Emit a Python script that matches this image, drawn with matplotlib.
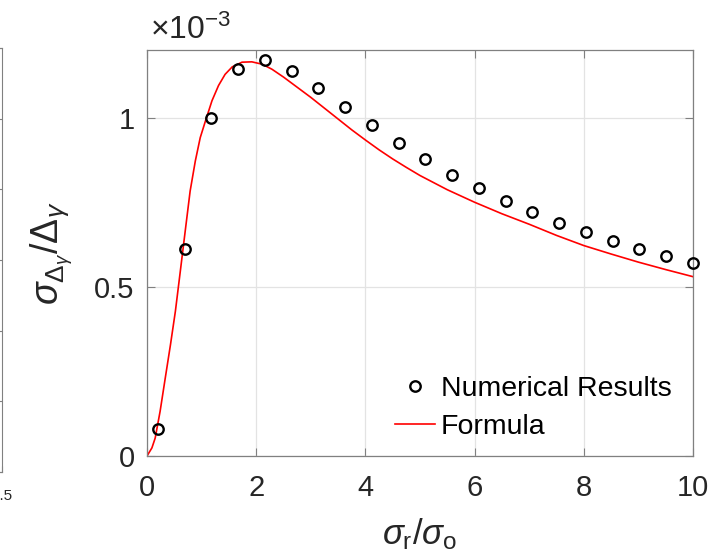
import numpy as np
import matplotlib
matplotlib.use('Agg')
import matplotlib.pyplot as plt

plt.rcParams['font.family'] = ['Liberation Sans', 'DejaVu Sans']
plt.rcParams['mathtext.fontset'] = 'custom'
plt.rcParams['mathtext.rm'] = 'Liberation Sans'
plt.rcParams['mathtext.it'] = 'Liberation Sans:italic'
plt.rcParams['mathtext.bf'] = 'Liberation Sans:bold'

# Dados (eixo y em unidades de 1e-3)
num_x = [0.2, 0.69, 1.18, 1.67, 2.16, 2.65, 3.14, 3.63, 4.12, 4.61, 5.10,
         5.59, 6.08, 6.57, 7.06, 7.55, 8.04, 8.53, 9.02, 9.51, 10.0]
num_y = [0.081, 0.613, 0.998, 1.145, 1.170, 1.138, 1.089, 1.033, 0.978, 0.926, 0.879,
         0.832, 0.792, 0.754, 0.721, 0.690, 0.662, 0.636, 0.612, 0.590, 0.571]

formula_x = [0.0, 0.09, 0.15, 0.24, 0.335, 0.43, 0.52, 0.61, 0.70, 0.79, 0.885, 0.975,
             1.07, 1.19, 1.31, 1.43, 1.56, 1.74, 1.92, 2.11, 2.29, 2.5, 2.75, 3.0,
             3.25, 3.5, 3.75, 4.0, 4.25, 4.5, 4.75, 5.0, 5.5, 6.0, 6.5, 7.0,
             7.5, 8.0, 8.5, 9.0, 9.5, 10.0]
formula_y = [0.0, 0.024, 0.053, 0.132, 0.231, 0.329, 0.428, 0.546, 0.665, 0.783, 0.872, 0.941,
             0.990, 1.050, 1.095, 1.128, 1.150, 1.164, 1.165, 1.158, 1.143, 1.120, 1.090, 1.060,
             1.028, 0.996, 0.964, 0.934, 0.905, 0.878, 0.853, 0.829, 0.787, 0.750, 0.716, 0.685,
             0.652, 0.622, 0.597, 0.573, 0.551, 0.530]

xticks = [0, 2, 4, 6, 8, 10]
yticks = [0, 0.5, 1]
yticklabels = ['0', '0.5', '1']

W, H = 712, 556
fig = plt.figure(figsize=(W / 100, H / 100), dpi=100)

axis_gray = '#808080'
text_dark = '#262626'

# pedaço do gráfico vizinho cortado na borda esquerda
ax0 = fig.add_axes([-0.5, (H - 472) / H, 0.5 + 2 / W, 424 / H])
ax0.set_xlim(0, 5.5)
ax0.set_ylim(0, 6)
ax0.set_xticks([5.5])
ax0.set_xticklabels(['5.5'], fontsize=11, color=text_dark)
ax0.set_yticks(range(7))
ax0.set_yticklabels([])
ax0.tick_params(direction='in', right=True, left=False, length=4, color=axis_gray, pad=12)
for s in ax0.spines.values():
    s.set_color(axis_gray)
    s.set_linewidth(0.8)

ax = fig.add_axes([147 / W, (H - 456) / H, 546 / W, 406 / H])
ax.plot(num_x, num_y, 'o', mfc='none', mec='black', ms=7.5, mew=1.7,
        label='Numerical Results', clip_on=False, zorder=3)
ax.plot(formula_x, formula_y, '-', color='red', lw=1.2, label='Formula', zorder=2)

ax.set_xlim(0, 10)
ax.set_ylim(0, 1.2)
ax.set_xticks(xticks)
ax.set_yticks(yticks)
ax.set_yticklabels(yticklabels)
ax.grid(True, color='#e3e3e3', lw=0.9)
ax.set_axisbelow(True)
ax.tick_params(direction='in', top=True, right=True, length=6, width=0.8,
               color=axis_gray, labelsize=21, labelcolor=text_dark)
ax.tick_params(axis='x', pad=13)
ax.tick_params(axis='y', pad=9)
for s in ax.spines.values():
    s.set_color(axis_gray)
    s.set_linewidth(0.9)

ax.text(0.005, 1.01, r'$\times10^{-3}$', transform=ax.transAxes, ha='left', va='bottom',
        fontsize=23, color=text_dark)

ax.set_xlabel(r'$\sigma_\mathrm{r}/\sigma_\mathrm{o}$', fontsize=25, color=text_dark, labelpad=10)
ax.set_ylabel(r'$\sigma_{\Delta_\gamma}/\Delta_\gamma$', fontsize=27, color=text_dark, labelpad=14)

ax.legend(loc='lower right', bbox_to_anchor=((683 - 147) / 546, 5 / 406), frameon=False,
          fontsize=20.5, handlelength=1.4, handletextpad=0.2, labelspacing=0.4,
          borderaxespad=0)

fig.savefig('out.png', dpi=100)
